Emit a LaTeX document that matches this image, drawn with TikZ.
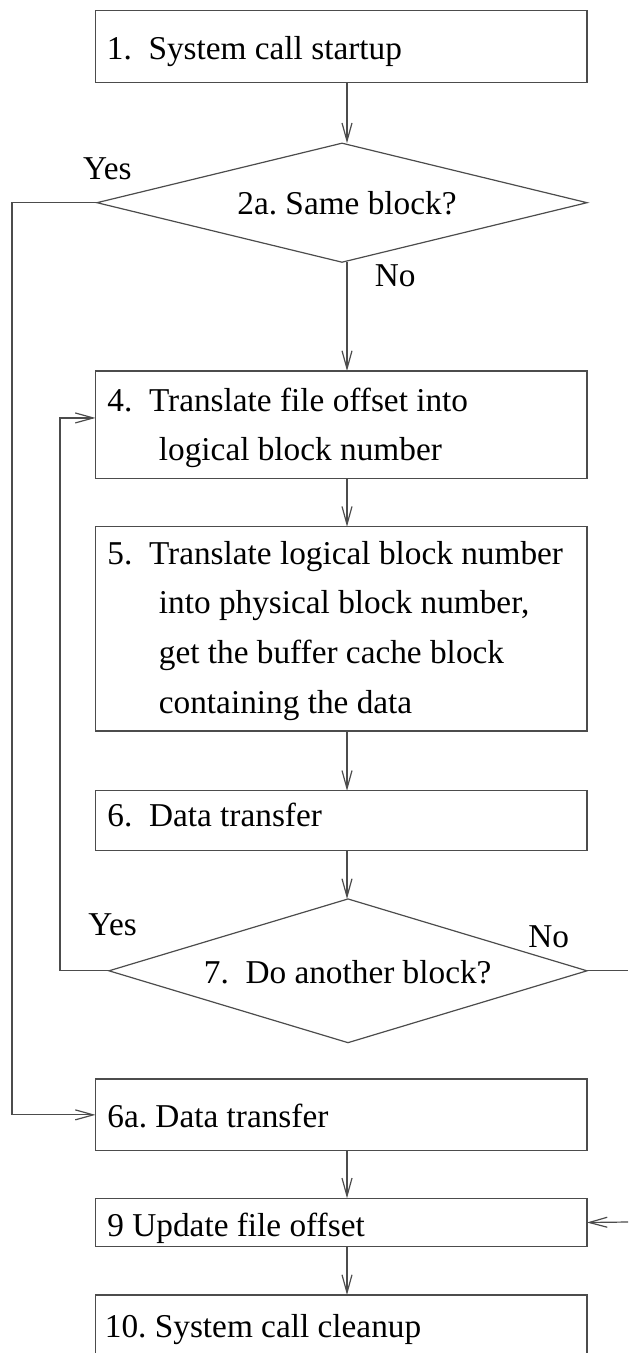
\documentclass[tikz,border=0pt]{standalone}
\usepackage{fontspec}
\setmainfont{Liberation Serif}
\usetikzlibrary{shapes.geometric,arrows.meta}
\newcommand{\lineindent}{\hspace*{25.75pt}}

\begin{document}
\frenchspacing
\begin{tikzpicture}[
  x=0.5pt, y=-0.5pt,
  flow_box/.style={rectangle, draw=black!70, line width=0.6pt, anchor=north west, minimum width=245.75pt, inner sep=0pt, outer sep=0pt},
  decision/.style={diamond, draw=black!70, line width=0.6pt, inner sep=0pt, outer sep=0pt},
  flow_text/.style={anchor=base west, inner sep=0pt, align=left, font=\fontsize{16.65pt}{24.8pt}\selectfont},
  flow_line/.style={draw=black!70, line width=0.6pt},
  flow_arrow/.style={flow_line, -{Straight Barb[length=9pt, width=5pt]}},
]
\clip (0,0) rectangle (628,1353);
\coordinate (spine) at (347,0);
\coordinate (no_exit) at (628,970.8);
\coordinate (no_entry) at (628,1222);
% boxes and decisions
\draw (95.5,10.7) node (box1) [flow_box, minimum height=36pt] {};
\draw (342,202.7) node (d2a) [decision, minimum width=245pt, minimum height=59.5pt] {};
\draw (95.5,371) node (box4) [flow_box, minimum height=53.75pt] {};
\draw (95.5,526.7) node (box5) [flow_box, minimum height=102.15pt] {};
\draw (95.5,790.8) node (box6) [flow_box, minimum height=30pt] {};
\draw (348,970.8) node (d7) [decision, minimum width=239pt, minimum height=71.85pt] {};
\draw (95.5,1079) node (box6a) [flow_box, minimum height=35.85pt] {};
\draw (95.5,1198.3) node (box9) [flow_box, minimum height=24.2pt] {};
\draw (95.5,1295) node (box10) [flow_box, minimum height=50pt] {};
% texts (multi-line ones sit on their last line)
\draw (106.5,60) node (t1) [flow_text] {1.\ \ System call startup};
\draw (237,215) node (t2a) [flow_text] {2a. Same block?};
\draw (107,460.7) node (t4) [flow_text] {4.\ \ Translate file offset into\\\lineindent logical block number};
\draw (107,713) node (t5) [flow_text] {5.\ \ Translate logical block number\\\lineindent into physical block number,\\\lineindent get the buffer cache block\\\lineindent containing the data};
\draw (107,826.3) node (t6) [flow_text] {6.\ \ Data transfer};
\draw (203.5,983) node (t7) [flow_text] {7.\ \ Do another block?};
\draw (107,1127) node (t6a) [flow_text] {6a. Data transfer};
\draw (107,1236.7) node (t9) [flow_text] {9 Update file offset};
\draw (104.5,1337) node (t10) [flow_text] {10. System call cleanup};
% branch labels
\draw (82.7,180) node (yes_2a) [flow_text] {Yes};
\draw (374.5,287) node (no_2a) [flow_text] {No};
\draw (88,935) node (yes_7) [flow_text] {Yes};
\draw (528,947) node (no_7) [flow_text] {No};
% main line
\draw [flow_arrow] (box1.south -| spine) -- (d2a.north -| spine);
\draw [flow_arrow] (d2a.south -| spine) -- (box4.north -| spine);
\draw [flow_arrow] (box4.south -| spine) -- (box5.north -| spine);
\draw [flow_arrow] (box5.south -| spine) -- (box6.north -| spine);
\draw [flow_arrow] (box6.south -| spine) -- (d7.north -| spine);
\draw [flow_arrow] (box6a.south -| spine) -- (box9.north -| spine);
\draw [flow_arrow] (box9.south -| spine) -- (box10.north -| spine);
% yes of 2a
\draw [flow_arrow] (d2a.west) -- ++(-85,0) |- (box6a.west);
% yes of 7, back to 4
\draw [flow_arrow] (d7.west) -- ++(-49,0) |- ([yshift=3.4pt]box4.west);
% no of 7
\draw [flow_line] (d7.east) -- (no_exit);
\draw [flow_arrow] (no_entry) -- (box9.east);
\end{tikzpicture}
\end{document}
